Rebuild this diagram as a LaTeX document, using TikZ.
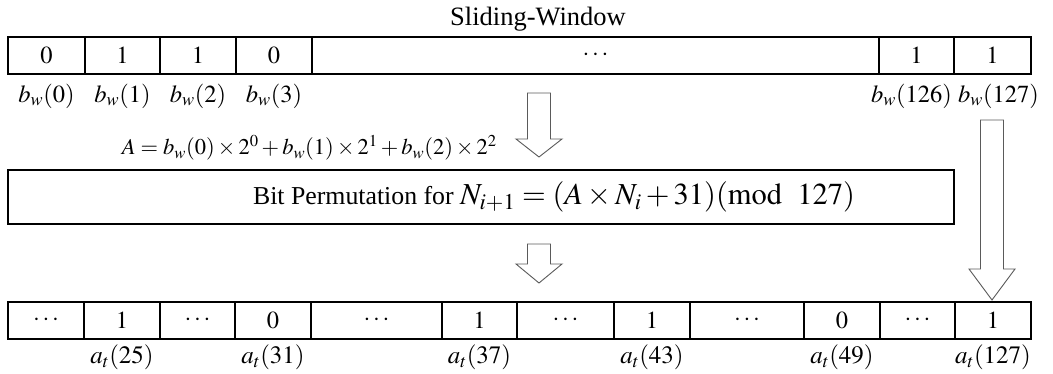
\documentclass[tikz,border=0pt]{standalone}
\usepackage{mathptmx}
\usepackage{fontspec}
\setmainfont{Liberation Serif}
\usetikzlibrary{positioning,calc}
\definecolor{cInk}{HTML}{000000}
\definecolor{cArrow}{HTML}{5A5A5A}

% hollow block arrow pointing down: x, shaft top, head base, tip
\newcommand{\hollowdown}[4]{%
  \draw[blk] (#1-11.5,#2) -- (#1+11.5,#2) -- (#1+11.5,#3) -- (#1+23,#3)
    -- (#1,#4) -- (#1-23,#3) -- (#1-11.5,#3) -- cycle;}

\begin{document}
\begin{tikzpicture}[x=1pt,y=-1pt,
      font=\fontsize{24.5}{28}\selectfont,
      cell/.style={draw=cInk,line width=1.3pt,minimum height=37pt,inner sep=0pt,outer sep=0pt},
      lbl/.style={inner sep=0pt,text=cInk},
      blk/.style={draw=cArrow,line width=0.9pt,fill=white}]
    \useasboundingbox (0,0) rectangle (1053,374);
    % sliding window
    \node[lbl,font=\fontsize{26.5}{30}\selectfont] (title) at (538,19) {Sliding-Window};
    \foreach \l/\r/\v [count=\i] in {8/85/0,85/160/1,160/236/1,236/312/0,312/879/\cdots,879/954/1,954/1031/1}
      \node[cell,minimum width={(\r-\l)*1pt}] (w\i) at ({(\l+\r)/2},55.5) {$\v$};
    \foreach \i/\k/\dx in {1/0/0,2/1/0,3/2/0,4/3/0,6/126/-5,7/127/6}
      \node[lbl] (bw\k) at ($(w\i.center)+(\dx,40.5)$) {$b_w(\k)$};
    % permutation
    \hollowdown{539}{93}{139}{157}
    \node[lbl,anchor=east,font=\fontsize{22.5}{26}\selectfont] (eqA) at (497,148)
      {$A=b_w(0)\times2^0+b_w(1)\times2^1+b_w(2)\times2^2$};
    \node[draw=cInk,line width=2pt,minimum width=946pt,minimum height=54pt,outer sep=0pt] (perm) at (481,197) {};
    \node[lbl] (permtxt) at (554,197)
      {\fontsize{25.8}{30}\selectfont Bit Permutation for {\fontsize{30.5}{35}\selectfont$N_{i+1}=(A\times N_i+31)(\mathrm{mod}\ \ 127)$}};
    \hollowdown{539}{244}{264}{283}
    \hollowdown{992}{120}{269}{300}
    % output bits
    \foreach \l/\r/\v [count=\i] in {8/84/\cdots,84/160/1,160/235/\cdots,235/311/0,311/442/\cdots,442/517/1,
        517/614/\cdots,614/690/1,690/804/\cdots,804/880/0,880/955/\cdots,955/1031/1}
      \node[cell,minimum width={(\r-\l)*1pt}] (a\i) at ({(\l+\r)/2},320.5) {$\v$};
    \foreach \i/\k in {2/25,4/31,6/37,8/43,10/49,12/127}
      \node[lbl,font=\fontsize{25}{29}\selectfont] (at\k) at ($(a\i.center)+(0,36.5)$) {$a_t(\k)$};
  \end{tikzpicture}
\end{document}
